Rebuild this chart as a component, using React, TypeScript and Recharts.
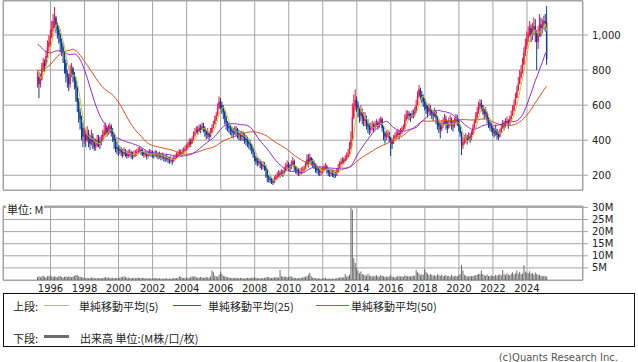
import React from 'react';
import { ComposedChart, Bar, Line, XAxis, YAxis, CartesianGrid } from 'recharts';

// ---------- data (monthly, Apr 1995 – Mar 2025) ----------
// closes before the first drawn month (Mar 1991 – Mar 1995), only used for the moving averages
const priorCloses = [
  700, 690, 680, 670, 660, 650, 640, 630, 620, 610, 600, 600, 610, 620, 630, 640, 650, 660, 660, 650, 640, 650, 660, 670, 690,
  900, 950, 1000, 1050, 1020, 980, 1000, 1040, 1010, 990, 980, 1000, 1020, 1010, 990, 980, 960, 950, 930, 920,
  880, 830, 780, 760,
];

const closes = [
  760, 720, 745, 810, 840, 825, 880, 930, 960, // 1995 Apr-Dec
  990, 1040, 1080, 1100, 1060, 1030, 1000, 960, 930, 900, 840, 780, // 1996
  760, 720, 790, 810, 770, 740, 700, 620, 560, 520, 470, 420, // 1997
  430, 400, 440, 410, 380, 420, 390, 360, 370, 400, 390, 380, // 1998
  400, 430, 450, 470, 440, 460, 480, 450, 430, 400, 360, 350, // 1999
  340, 350, 330, 320, 340, 330, 310, 320, 330, 315, 310, 320, // 2000
  325, 330, 340, 345, 335, 330, 320, 325, 310, 320, 330, 325, // 2001
  320, 315, 325, 320, 310, 315, 305, 310, 300, 295, 300, 290, // 2002
  285, 290, 280, 290, 300, 310, 320, 330, 320, 330, 340, 350, // 2003
  360, 370, 390, 380, 400, 430, 440, 460, 450, 470, 460, 480, // 2004
  470, 450, 430, 440, 420, 440, 470, 490, 520, 540, 580, 620, // 2005
  600, 580, 560, 530, 500, 480, 470, 460, 450, 440, 460, 450, // 2006
  440, 430, 420, 430, 420, 410, 400, 390, 380, 370, 350, 330, // 2007
  300, 280, 270, 280, 265, 250, 260, 250, 230, 190, 180, 175, // 2008
  165, 160, 175, 185, 200, 210, 205, 215, 210, 225, 245, 260, // 2009
  250, 240, 260, 280, 250, 230, 225, 215, 220, 225, 230, 235, // 2010
  260, 290, 280, 300, 280, 270, 260, 240, 230, 225, 215, 220, // 2011
  230, 240, 250, 235, 215, 210, 215, 210, 205, 200, 215, 240, // 2012
  265, 275, 285, 280, 295, 305, 320, 350, 400, 530, 590, 630, // 2013
  600, 570, 540, 560, 530, 510, 520, 490, 480, 460, 470, 480, // 2014
  470, 490, 500, 480, 500, 520, 470, 440, 420, 430, 440, 410, // 2015
  390, 380, 410, 420, 430, 440, 430, 450, 460, 470, 520, 540, // 2016
  550, 540, 530, 550, 545, 560, 600, 650, 690, 660, 640, 620, // 2017
  600, 580, 560, 590, 570, 550, 540, 560, 530, 500, 480, 460, // 2018
  480, 500, 520, 490, 470, 500, 510, 490, 480, 500, 520, 510, // 2019
  480, 440, 370, 390, 400, 410, 400, 420, 410, 430, 470, 500, // 2020
  530, 560, 590, 610, 600, 570, 550, 560, 520, 500, 480, 470, // 2021
  450, 440, 460, 430, 420, 440, 470, 490, 480, 500, 510, 490, // 2022
  520, 540, 570, 600, 640, 680, 720, 760, 790, 830, 900, 940, // 2023
  980, 1010, 1040, 1000, 1030, 1050, 1020, 960, 1000, 1060, 1040, 1060, // 2024
  1080, 1070, 860, // 2025 Jan-Mar
];

const highs = [
  800, 790, 780, 840, 870, 860, 910, 970, 1000,
  1030, 1080, 1120, 1160, 1110, 1070, 1050, 1010, 980, 950, 910, 860,
  800, 780, 830, 840, 820, 790, 760, 710, 640, 580, 540, 500,
  480, 460, 480, 460, 430, 460, 440, 410, 410, 430, 430, 420,
  430, 460, 490, 500, 480, 490, 500, 490, 470, 440, 410, 390,
  370, 370, 360, 350, 360, 350, 340, 345, 350, 340, 335, 340,
  345, 350, 360, 365, 355, 350, 340, 345, 335, 340, 350, 345,
  340, 335, 345, 340, 330, 335, 325, 330, 320, 315, 320, 310,
  305, 310, 300, 310, 320, 330, 340, 350, 345, 350, 360, 370,
  380, 390, 410, 410, 420, 450, 470, 480, 480, 490, 490, 500,
  500, 480, 460, 470, 450, 470, 490, 510, 540, 560, 610, 650,
  640, 620, 600, 570, 540, 510, 500, 490, 480, 470, 480, 480,
  470, 460, 450, 455, 450, 440, 430, 420, 410, 400, 380, 360,
  330, 310, 300, 300, 290, 280, 280, 275, 260, 235, 200, 195,
  185, 180, 195, 205, 220, 230, 225, 235, 230, 250, 270, 285,
  275, 265, 285, 305, 290, 255, 245, 240, 240, 245, 250, 255,
  280, 320, 320, 325, 305, 295, 285, 265, 255, 250, 240, 240,
  250, 260, 270, 260, 240, 230, 235, 230, 225, 220, 240, 265,
  280, 295, 305, 300, 315, 330, 350, 390, 450, 610, 660, 690,
  650, 620, 590, 600, 580, 560, 560, 540, 520, 500, 500, 510,
  500, 510, 520, 510, 525, 535, 530, 480, 450, 455, 460, 450,
  420, 410, 430, 445, 455, 465, 455, 470, 480, 490, 550, 570,
  570, 565, 555, 570, 575, 590, 630, 680, 715, 700, 680, 660,
  640, 620, 600, 610, 600, 580, 570, 585, 570, 540, 510, 500,
  510, 530, 550, 540, 510, 530, 545, 530, 515, 530, 550, 545,
  520, 490, 450, 420, 430, 440, 430, 445, 440, 455, 490, 520,
  560, 590, 620, 635, 630, 600, 580, 590, 565, 530, 510, 500,
  480, 470, 490, 465, 450, 465, 495, 515, 510, 525, 535, 520,
  540, 570, 600, 630, 670, 710, 760, 800, 830, 870, 930, 980,
  1020, 1050, 1080, 1060, 1070, 1100, 1090, 1030, 1050, 1120, 1100, 1090,
  1110, 1120, 1165,
];

const lows = [
  700, 640, 700, 740, 790, 790, 820, 870, 900,
  940, 980, 1020, 1040, 1010, 980, 950, 900, 880, 840, 780, 730,
  700, 680, 700, 760, 730, 690, 620, 560, 500, 460, 400, 360,
  380, 360, 390, 360, 345, 370, 350, 340, 340, 360, 360, 350,
  370, 390, 420, 430, 420, 430, 440, 420, 390, 350, 330, 320,
  310, 320, 310, 300, 310, 305, 295, 300, 305, 295, 290, 300,
  305, 310, 320, 325, 315, 310, 300, 305, 290, 300, 310, 305,
  300, 295, 305, 300, 290, 295, 285, 290, 280, 275, 280, 270,
  265, 270, 260, 275, 285, 295, 300, 310, 305, 310, 320, 330,
  340, 350, 360, 360, 380, 400, 420, 440, 430, 445, 440, 455,
  445, 420, 405, 410, 400, 415, 440, 465, 490, 510, 540, 580,
  560, 550, 520, 490, 460, 450, 440, 430, 420, 410, 430, 420,
  410, 400, 395, 400, 395, 380, 370, 360, 350, 340, 320, 300,
  280, 260, 250, 255, 240, 230, 235, 225, 185, 160, 160, 155,
  150, 145, 155, 170, 180, 190, 185, 195, 190, 205, 220, 235,
  225, 220, 235, 250, 225, 210, 205, 195, 200, 205, 210, 215,
  235, 255, 245, 270, 255, 245, 235, 215, 210, 200, 195, 200,
  210, 220, 230, 210, 195, 190, 195, 190, 185, 185, 195, 215,
  240, 255, 265, 265, 275, 285, 300, 320, 350, 400, 520, 570,
  560, 530, 500, 510, 490, 480, 480, 460, 440, 430, 440, 455,
  445, 460, 475, 460, 470, 490, 450, 400, 380, 400, 415, 390,
  310, 350, 380, 395, 405, 415, 405, 425, 435, 445, 460, 510,
  520, 515, 505, 525, 525, 535, 555, 600, 640, 630, 610, 590,
  570, 550, 530, 550, 540, 520, 510, 530, 490, 460, 440, 410,
  450, 470, 490, 460, 440, 465, 480, 460, 450, 470, 490, 480,
  450, 420, 315, 350, 375, 385, 375, 395, 385, 400, 430, 465,
  495, 520, 550, 575, 565, 545, 520, 530, 495, 470, 455, 445,
  425, 415, 425, 405, 400, 415, 440, 465, 455, 470, 485, 465,
  490, 510, 540, 565, 600, 640, 680, 720, 750, 780, 830, 880,
  920, 960, 990, 960, 970, 1000, 960, 800, 920, 990, 990, 1010,
  1030, 1020, 830,
];

// volume, millions
const volumes = [
  1.2, 1.6, 1.1, 1.4, 1.8, 1.3, 1.0, 1.5, 1.7,
  1.9, 1.4, 1.2, 1.6, 1.3, 1.1, 1.5, 1.8, 1.2, 1.0, 1.3, 1.4,
  1.2, 1.6, 1.3, 1.1, 1.4, 1.7, 2.0, 2.2, 1.6, 1.3, 1.1, 1.0,
  0.9, 0.8, 0.9, 0.7, 0.8, 1.1, 0.9, 0.8, 0.7, 0.8, 0.7, 0.8,
  0.7, 0.8, 1.0, 1.2, 0.9, 1.0, 0.8, 0.7, 0.9, 0.8, 0.7, 0.9,
  0.8, 0.9, 1.3, 1.1, 1.6, 1.2, 0.9, 1.0, 0.8, 0.7, 0.8, 0.9,
  0.7, 0.8, 1.0, 0.8, 0.7, 0.9, 0.8, 0.7, 0.6, 0.8, 0.7, 0.6,
  0.6, 0.7, 0.8, 0.7, 0.6, 0.7, 0.6, 0.5, 0.6, 0.7, 0.6, 0.5,
  0.6, 0.5, 0.6, 0.7, 0.8, 0.7, 0.9, 1.6, 1.2, 0.9, 0.8, 0.9,
  1.0, 0.8, 0.9, 1.2, 1.5, 1.3, 1.6, 1.1, 0.9, 1.0, 1.2, 1.1,
  0.9, 1.0, 1.2, 1.0, 0.9, 1.4, 3.9, 3.2, 1.8, 1.5, 1.3, 2.2,
  3.4, 2.6, 1.8, 1.5, 1.2, 1.1, 1.0, 0.9, 0.8, 0.9, 0.8, 0.9,
  0.8, 0.7, 0.9, 0.8, 0.7, 0.6, 0.8, 0.9, 0.7, 0.8, 0.9, 1.0,
  1.1, 0.9, 0.8, 0.7, 0.6, 0.8, 0.7, 0.9, 1.0, 1.3, 1.1, 0.9,
  0.8, 0.9, 1.1, 1.0, 1.2, 0.9, 4.1, 1.6, 1.4, 1.2, 1.4, 1.1,
  1.2, 1.6, 1.4, 1.0, 0.9, 0.8, 0.7, 0.8, 0.7, 0.9, 1.0, 1.2,
  1.3, 1.5, 2.2, 3.0, 1.6, 1.0, 0.8, 0.7, 0.6, 0.7, 0.6, 0.5,
  0.6, 0.7, 0.9, 0.6, 0.5, 0.6, 0.5, 0.6, 0.5, 0.6, 0.7, 0.9,
  1.0, 1.1, 0.9, 1.2, 2.5, 1.4, 1.6, 2.2, 30.0, 29.0, 9.0, 7.0,
  5.0, 3.9, 2.8, 3.5, 2.5, 2.2, 2.0, 1.8, 2.6, 1.9, 1.5, 1.7,
  1.4, 1.8, 2.0, 1.6, 1.3, 2.1, 1.7, 1.5, 1.2, 1.4, 1.3, 1.6,
  2.0, 1.4, 1.2, 1.0, 1.2, 1.8, 1.6, 1.4, 1.5, 1.3, 2.0, 1.7,
  1.5, 1.6, 1.4, 1.7, 1.9, 1.8, 4.1, 3.2, 2.8, 2.0, 2.4, 2.2,
  4.4, 3.2, 2.6, 2.0, 2.5, 2.2, 1.8, 2.0, 1.7, 2.4, 2.0, 1.8,
  2.2, 1.6, 1.8, 2.1, 1.5, 1.7, 1.4, 2.2, 1.6, 1.5, 1.8, 1.6,
  2.0, 2.4, 6.2, 3.9, 2.2, 1.8, 1.6, 1.4, 1.8, 1.5, 1.7, 1.9,
  2.0, 2.2, 2.5, 2.6, 3.9, 2.4, 2.0, 1.8, 2.3, 1.7, 1.6, 2.0,
  1.7, 1.6, 2.2, 1.8, 2.0, 2.4, 1.9, 4.1, 2.5, 2.0, 2.8, 2.3,
  2.0, 2.6, 3.2, 2.2, 2.8, 3.9, 2.6, 3.4, 2.4, 2.7, 6.2, 3.5,
  3.0, 2.8, 3.6, 2.6, 2.9, 2.2, 3.1, 2.5, 2.0, 2.2, 1.8, 1.6,
  1.8, 1.5, 1.4,
];

const yearTicks = ['1996-01', '1998-01', '2000-01', '2002-01', '2004-01', '2006-01', '2008-01', '2010-01',
  '2012-01', '2014-01', '2016-01', '2018-01', '2020-01', '2022-01', '2024-01'];
const priceTicks = [200, 400, 600, 800, 1000];
const volumeTicks = [5, 10, 15, 20, 25, 30];

// axis window: Apr 1993 .. May 2027 (409 monthly slots); first data month Apr 1995
const AXIS_START_YEAR = 1993;
const AXIS_START_MONTH = 3; // zero-based (April)
const SLOTS = 409;
const FIRST_DATA_SLOT = 24;

const RED = '#f0124c';
const BLUE = '#0c3896';
const MA5_COLOR = '#bccc2a';
const MA25_COLOR = '#9126d0';
const MA50_COLOR = '#dc4a1a';
const GRID = '#a4a4a4';
const VOL = '#6a6a6a';

const allCloses = [...priorCloses, ...closes];
const sma = (k: number, n: number) => {
  const end = priorCloses.length + k;
  let s = 0;
  for (let j = end - n + 1; j <= end; j++) s += allCloses[j];
  return s / n;
};

const rows = Array.from({ length: SLOTS }, (_, i) => {
  const m = AXIS_START_MONTH + i;
  const year = AXIS_START_YEAR + Math.floor(m / 12);
  const mon = (m % 12) + 1;
  const label = `${year}-${mon < 10 ? '0' : ''}${mon}`;
  const k = i - FIRST_DATA_SLOT;
  if (k < 0 || k >= closes.length) return { label } as any;
  const open = k === 0 ? priorCloses[priorCloses.length - 1] : closes[k - 1];
  return {
    label,
    open,
    close: closes[k],
    high: highs[k],
    low: lows[k],
    vol: volumes[k],
    ma5: sma(k, 5),
    ma25: sma(k, 25),
    ma50: sma(k, 50),
  };
});

const Candle = (props: any) => {
  const { x, y, width, height, payload } = props;
  if (!payload || payload.close == null || !Number.isFinite(y) || !Number.isFinite(height)) return <g />;
  const { open, close, high, low } = payload;
  const top = Math.min(y, y + height);
  const h = Math.abs(height);
  const span = high - low || 1;
  const py = (v: number) => top + ((high - v) / span) * h;
  const color = close >= open ? RED : BLUE;
  const cx = x + width / 2;
  const bTop = py(Math.max(open, close));
  const bBot = py(Math.min(open, close));
  const bw = Math.max(width, 1.4);
  return (
    <g>
      <line x1={cx} x2={cx} y1={top} y2={top + h} stroke={color} strokeWidth={1} />
      <rect x={cx - bw / 2} y={bTop} width={bw} height={Math.max(bBot - bTop, 1)} fill={color} />
    </g>
  );
};

const axisFont = { fontSize: 10, fontFamily: 'DejaVu Sans', fill: '#222' };
const jp = "'Noto Sans CJK JP', 'DejaVu Sans', sans-serif";

const LegendLine = ({ left, width, color, thick = 1, top }: any) => (
  <div style={{ position: 'absolute', left, top, width, height: thick, background: color }} />
);

const LegendText = ({ left, top, children }: any) => (
  <div style={{ position: 'absolute', left, top, fontSize: 11, lineHeight: '14px', fontFamily: jp, color: '#222', whiteSpace: 'nowrap' }}>
    {children}
  </div>
);

export default function App() {
  return (
    <div style={{ position: 'absolute', left: 0, top: 0, width: 638, height: 362, background: '#fff', overflow: 'hidden' }}>
      {/* price panel */}
      <div style={{ position: 'absolute', left: 0, top: 0 }}>
        <ComposedChart width={638} height={191} data={rows} margin={{ top: 1, right: 0, bottom: 1, left: 3 }} barCategoryGap={0} barGap={0}>
          <CartesianGrid stroke={GRID} strokeWidth={1} />
          <XAxis dataKey="label" hide ticks={yearTicks} interval={0} />
          <YAxis
            orientation="right"
            width={55}
            domain={[116, 1194]}
            allowDataOverflow
            ticks={priceTicks}
            interval={0}
            tickFormatter={(v: number) => v.toLocaleString('en-US')}
            axisLine={false}
            tickSize={5}
            tickMargin={4}
            tickLine={{ stroke: GRID }}
            tick={axisFont}
          />
          <Bar dataKey={(d: any) => (d.high == null ? null : [d.low, d.high])} shape={<Candle />} isAnimationActive={false} />
          <Line dataKey="ma50" stroke={MA50_COLOR} strokeWidth={1} dot={false} isAnimationActive={false} />
          <Line dataKey="ma25" stroke={MA25_COLOR} strokeWidth={1} dot={false} isAnimationActive={false} />
          <Line dataKey="ma5" stroke={MA5_COLOR} strokeWidth={1} dot={false} isAnimationActive={false} />
        </ComposedChart>
      </div>
      <div style={{ position: 'absolute', left: 3, top: 0, width: 580, height: 191, border: `1px solid ${GRID}`, boxSizing: 'border-box', pointerEvents: 'none' }} />

      {/* volume panel */}
      <div style={{ position: 'absolute', left: 0, top: 200 }}>
        <ComposedChart width={638} height={96} data={rows} margin={{ top: 6, right: 0, bottom: 0, left: 3 }} barCategoryGap={0} barGap={0}>
          <CartesianGrid stroke={GRID} strokeWidth={1} />
          <XAxis
            dataKey="label"
            ticks={yearTicks}
            interval={0}
            height={16}
            axisLine={false}
            tickLine={false}
            tickSize={2}
            tickMargin={3}
            tickFormatter={(v: string) => v.slice(0, 4)}
            tick={axisFont}
          />
          <YAxis
            orientation="right"
            width={55}
            domain={[0, 30.6]}
            allowDataOverflow
            ticks={volumeTicks}
            interval={0}
            tickFormatter={(v: number) => `${v}M`}
            axisLine={false}
            tickSize={5}
            tickMargin={4}
            tickLine={{ stroke: GRID }}
            tick={axisFont}
          />
          <Bar dataKey="vol" fill={VOL} isAnimationActive={false} />
        </ComposedChart>
      </div>
      <div style={{ position: 'absolute', left: 3, top: 206, width: 580, height: 75, border: `1px solid ${GRID}`, boxSizing: 'border-box', pointerEvents: 'none' }} />
      <div style={{ position: 'absolute', left: 6, top: 202, fontSize: 11, lineHeight: '14px', fontFamily: jp, color: '#222', background: '#fff', padding: '0 1px' }}>
        単位: M
      </div>

      {/* legend box */}
      <div style={{ position: 'absolute', left: 3, top: 293, width: 632, height: 54, border: '1px solid #111', boxSizing: 'border-box' }}>
        <LegendText left={9} top={5}>上段:</LegendText>
        <LegendLine left={40} top={11} width={25} color={MA5_COLOR} />
        <LegendText left={75} top={5}>単純移動平均(5)</LegendText>
        <LegendLine left={169} top={11} width={28} color={MA25_COLOR} />
        <LegendText left={204} top={5}>単純移動平均(25)</LegendText>
        <LegendLine left={312} top={11} width={33} color={MA50_COLOR} />
        <LegendText left={347} top={5}>単純移動平均(50)</LegendText>

        <LegendText left={9} top={37}>下段:</LegendText>
        <LegendLine left={40} top={41} width={25} color={VOL} thick={3} />
        <LegendText left={76} top={37}>出来高 単位:(M株/口/枚)</LegendText>
      </div>

      <div style={{ position: 'absolute', right: 20, top: 351, fontSize: 10, lineHeight: '13px', fontFamily: 'DejaVu Sans', color: '#555', whiteSpace: 'nowrap' }}>
        (c)Quants Research Inc.
      </div>
    </div>
  );
}
